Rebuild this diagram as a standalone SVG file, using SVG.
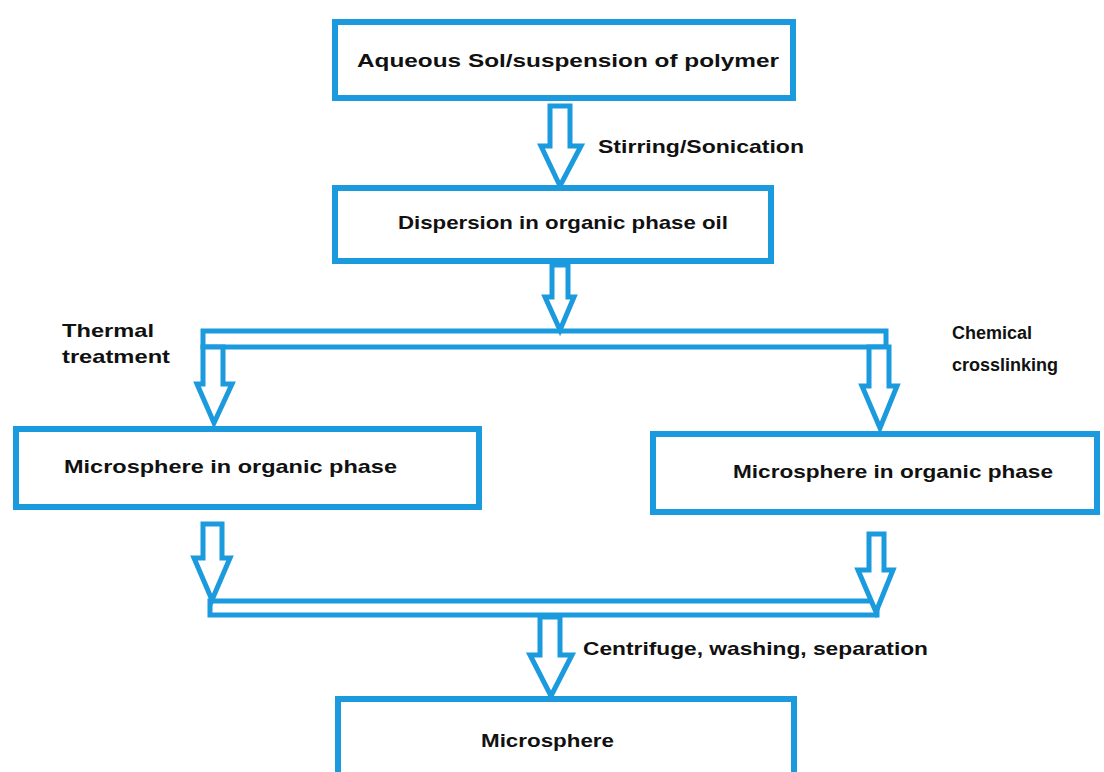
<svg xmlns="http://www.w3.org/2000/svg" width="1104" height="772" viewBox="0 0 1104 772">
<style>
.box{fill:#fff;stroke:#1b9ade;stroke-width:6}
.arr{fill:#fff;stroke:#1b9ade;stroke-width:5;stroke-linejoin:miter}
.bar{fill:#fff;stroke:#1b9ade;stroke-width:5}
text{font-family:"Liberation Sans",Arial,sans-serif;font-weight:bold;font-size:19px;fill:#111}
.sm{font-size:18px}
</style>
<rect width="1104" height="772" fill="#fff"/>
<g id="connectors">
<polygon class="arr" points="550,106 570,106 570,146 581,146 560,186 541,146 550,146"/>
<rect class="bar" x="203" y="331" width="683" height="16"/>
<polygon class="arr" points="552,265 568,265 568,297 574,297 560,330 545,297 552,297"/>
<polygon class="arr" points="203,347 223,347 223,384 232,384 214,423 197,384 203,384"/>
<polygon class="arr" points="869,347 889,347 889,386 897,386 880,428 862,386 869,386"/>
<rect class="bar" x="210" y="601" width="667" height="14"/>
<polygon class="arr" points="203,524 222,524 222,558 230,558 212,600 194,558 203,558"/>
<polygon class="arr" points="869,534 884,534 884,570 893,570 876,612 858,570 869,570"/>
<polygon class="arr" points="540,617 560,617 560,655 572,655 551,696 530,655 540,655"/>
</g>
<g id="n1"><rect class="box" x="335" y="22" width="458" height="76"/><text x="357" y="67" textLength="422" lengthAdjust="spacingAndGlyphs">Aqueous  Sol/suspension of polymer</text></g>
<g id="l1"><text x="598" y="153" textLength="206" lengthAdjust="spacingAndGlyphs">Stirring/Sonication</text></g>
<g id="n2"><rect class="box" x="335" y="188" width="436" height="73"/><text x="398" y="229" textLength="330" lengthAdjust="spacingAndGlyphs">Dispersion in organic phase oil</text></g>
<g id="l2"><text x="62" y="337" textLength="92" lengthAdjust="spacingAndGlyphs">Thermal</text><text x="62" y="363" textLength="108" lengthAdjust="spacingAndGlyphs">treatment</text></g>
<g id="l3"><text class="sm" x="952" y="339">Chemical</text><text class="sm" x="952" y="371">crosslinking</text></g>
<g id="n3"><rect class="box" x="16" y="429" width="463" height="78"/><text x="64" y="473" textLength="333" lengthAdjust="spacingAndGlyphs">Microsphere in organic phase</text></g>
<g id="n4"><rect class="box" x="653" y="434" width="444" height="78"/><text x="733" y="478" textLength="320" lengthAdjust="spacingAndGlyphs">Microsphere in organic phase</text></g>
<g id="l4"><text x="583" y="655" textLength="345" lengthAdjust="spacingAndGlyphs">Centrifuge, washing, separation</text></g>
<g id="n5"><rect class="box" x="338" y="699" width="456" height="80"/><text x="481" y="747" textLength="133" lengthAdjust="spacingAndGlyphs">Microsphere</text></g>
</svg>
